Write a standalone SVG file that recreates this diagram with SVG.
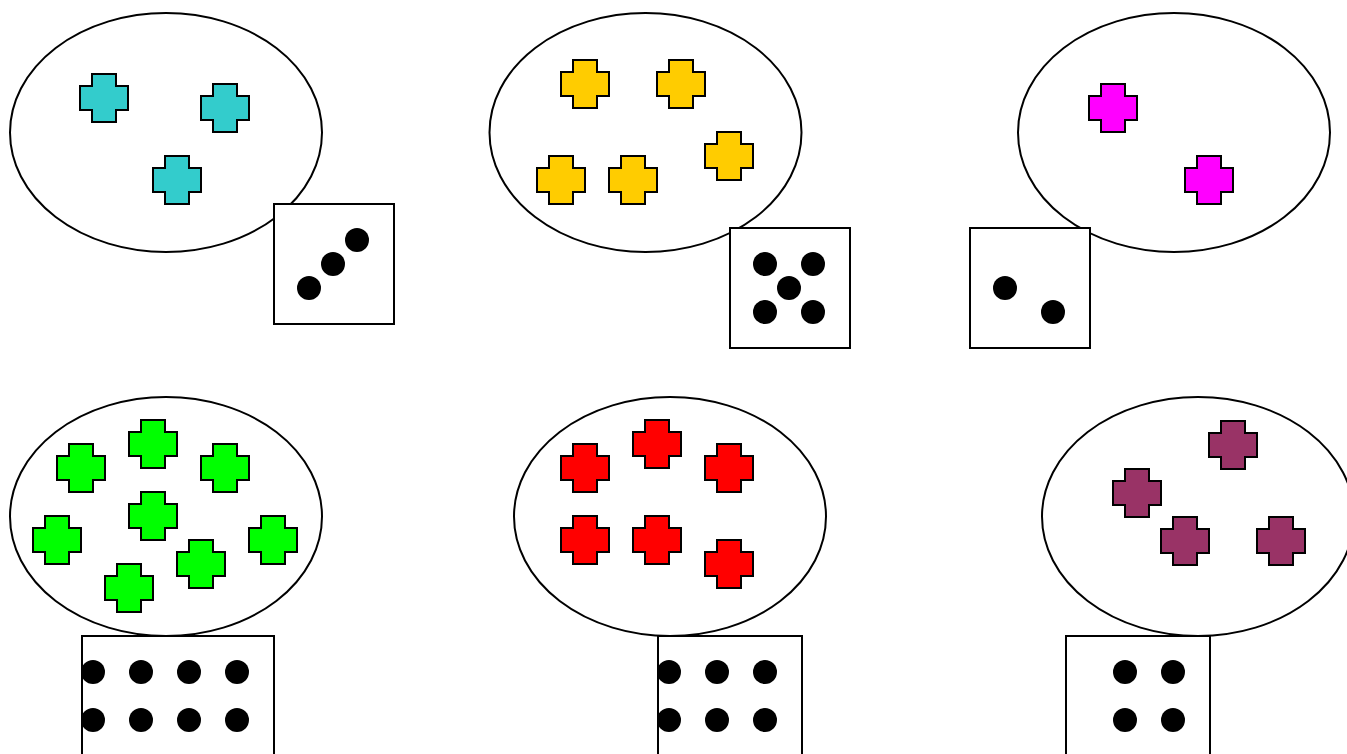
<svg xmlns="http://www.w3.org/2000/svg" xmlns:xlink="http://www.w3.org/1999/xlink" width="1347" height="754" viewBox="0 0 1347 754">
<style>
.set{fill:#fff;stroke:#000;stroke-width:2}
.die{fill:#fff;stroke:#000;stroke-width:2}
.pip{fill:#000}
.cx{stroke:#000;stroke-width:2;stroke-linejoin:miter}
.c1{fill:#33CCCC}.c2{fill:#FFCC00}.c3{fill:#FF00FF}.c4{fill:#00FF00}.c5{fill:#FF0000}.c6{fill:#993366}
</style>
<defs>
<path id="cr" d="M-12,-24H12V-12H24V12H12V24H-12V12H-24V-12H-12Z"/>
</defs>
<rect width="1347" height="754" fill="#fff"/>
<g id="group1">
<ellipse class="set" cx="166" cy="132.5" rx="156" ry="119.5"/>
<g class="cx c1">
<use xlink:href="#cr" x="104" y="98"/><use xlink:href="#cr" x="225" y="108"/><use xlink:href="#cr" x="177" y="180"/>
</g>
<rect class="die" x="274" y="204" width="120" height="120"/>
<g class="pip"><circle cx="309" cy="288" r="12"/><circle cx="333" cy="264" r="12"/><circle cx="357" cy="240" r="12"/></g>
</g>
<g id="group2">
<ellipse class="set" cx="645.5" cy="132.5" rx="156" ry="119.5"/>
<g class="cx c2">
<use xlink:href="#cr" x="585" y="84"/><use xlink:href="#cr" x="681" y="84"/><use xlink:href="#cr" x="729" y="156"/><use xlink:href="#cr" x="561" y="180"/><use xlink:href="#cr" x="633" y="180"/>
</g>
<rect class="die" x="730" y="228" width="120" height="120"/>
<g class="pip"><circle cx="765" cy="264" r="12"/><circle cx="813" cy="264" r="12"/><circle cx="789" cy="288" r="12"/><circle cx="765" cy="312" r="12"/><circle cx="813" cy="312" r="12"/></g>
</g>
<g id="group3">
<ellipse class="set" cx="1174" cy="132.5" rx="156" ry="119.5"/>
<g class="cx c3">
<use xlink:href="#cr" x="1113" y="108"/><use xlink:href="#cr" x="1209" y="180"/>
</g>
<rect class="die" x="970" y="228" width="120" height="120"/>
<g class="pip"><circle cx="1005" cy="288" r="12"/><circle cx="1053" cy="312" r="12"/></g>
</g>
<g id="group4">
<ellipse class="set" cx="166" cy="516.5" rx="156" ry="119.5"/>
<g class="cx c4">
<use xlink:href="#cr" x="81" y="468"/><use xlink:href="#cr" x="153" y="444"/><use xlink:href="#cr" x="225" y="468"/><use xlink:href="#cr" x="57" y="540"/><use xlink:href="#cr" x="153" y="516"/><use xlink:href="#cr" x="273" y="540"/><use xlink:href="#cr" x="201" y="564"/><use xlink:href="#cr" x="129" y="588"/>
</g>
<rect class="die" x="82" y="636" width="192" height="192"/>
<g class="pip"><circle cx="93" cy="672" r="12"/><circle cx="141" cy="672" r="12"/><circle cx="189" cy="672" r="12"/><circle cx="237" cy="672" r="12"/><circle cx="93" cy="720" r="12"/><circle cx="141" cy="720" r="12"/><circle cx="189" cy="720" r="12"/><circle cx="237" cy="720" r="12"/></g>
</g>
<g id="group5">
<ellipse class="set" cx="670" cy="516.5" rx="156" ry="119.5"/>
<g class="cx c5">
<use xlink:href="#cr" x="585" y="468"/><use xlink:href="#cr" x="657" y="444"/><use xlink:href="#cr" x="729" y="468"/><use xlink:href="#cr" x="585" y="540"/><use xlink:href="#cr" x="657" y="540"/><use xlink:href="#cr" x="729" y="564"/>
</g>
<rect class="die" x="658" y="636" width="144" height="144"/>
<g class="pip"><circle cx="669" cy="672" r="12"/><circle cx="717" cy="672" r="12"/><circle cx="765" cy="672" r="12"/><circle cx="669" cy="720" r="12"/><circle cx="717" cy="720" r="12"/><circle cx="765" cy="720" r="12"/></g>
</g>
<g id="group6">
<ellipse class="set" cx="1198" cy="516.5" rx="156" ry="119.5"/>
<g class="cx c6">
<use xlink:href="#cr" x="1233" y="445"/><use xlink:href="#cr" x="1137" y="493"/><use xlink:href="#cr" x="1185" y="541"/><use xlink:href="#cr" x="1281" y="541"/>
</g>
<rect class="die" x="1066" y="636" width="144" height="144"/>
<g class="pip"><circle cx="1125" cy="672" r="12"/><circle cx="1173" cy="672" r="12"/><circle cx="1125" cy="720" r="12"/><circle cx="1173" cy="720" r="12"/></g>
</g>
<g id="connectors"/>
</svg>
